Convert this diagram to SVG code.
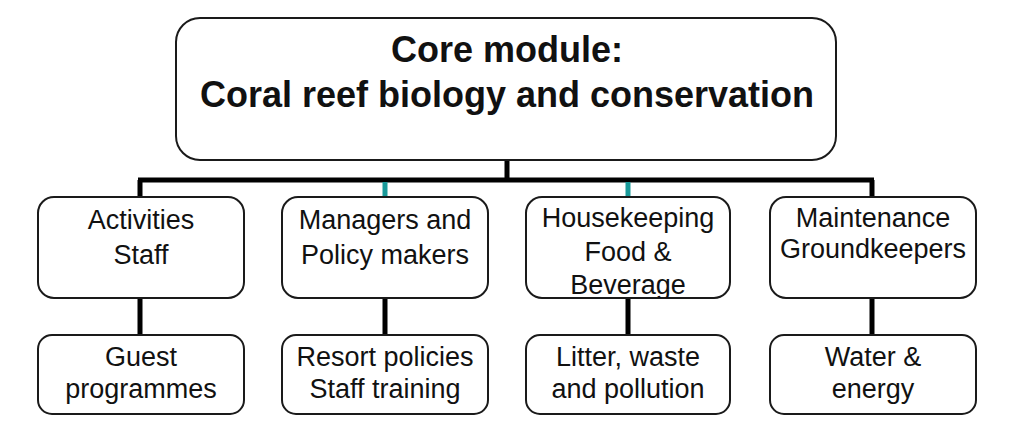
<svg xmlns="http://www.w3.org/2000/svg" width="1024" height="426" viewBox="0 0 1024 426">
<style>
.box{fill:#fff;stroke:#1a1a1a;stroke-width:2}
.t{font-family:"Liberation Sans",Arial,sans-serif;font-size:27px;fill:#111;text-anchor:middle}
.h{font-family:"Liberation Sans",Arial,sans-serif;font-size:36px;font-weight:bold;fill:#111;text-anchor:middle}
.k{stroke:#000;stroke-width:5;fill:none}
.c{stroke:#1a9a9a;stroke-width:5;fill:none}
</style>
<defs><clipPath id="cb3"><rect x="526" y="197" width="204" height="101" rx="16"/></clipPath></defs>
<g id="connectors">
<path class="k" d="M507 160V180M138 180H874M140 180V197M872 180V197"/>
<path class="c" d="M385 182V197M628 182V197"/>
<path class="k" d="M140 298V335M385 298V335M628 298V335M872 298V335"/>
</g>
<g id="core"><rect class="box" x="176" y="18" width="660" height="142" rx="24"/>
<text class="h" x="507" y="62">Core module:</text><text class="h" x="507" y="107">Coral reef biology and conservation</text></g>
<g id="activities"><rect class="box" x="38" y="197" width="206" height="101" rx="16"/>
<text class="t" x="141" y="229">Activities</text><text class="t" x="141" y="264">Staff</text></g>
<g id="managers"><rect class="box" x="282" y="197" width="206" height="101" rx="16"/>
<text class="t" x="385" y="229">Managers and</text><text class="t" x="385" y="264">Policy makers</text></g>
<g id="housekeeping"><rect class="box" x="526" y="197" width="204" height="101" rx="16"/>
<g clip-path="url(#cb3)"><text class="t" x="628" y="227">Housekeeping</text><text class="t" x="628" y="261">Food &amp;</text><text class="t" x="628" y="294">Beverage</text></g></g>
<g id="maintenance"><rect class="box" x="770" y="197" width="206" height="101" rx="16"/>
<text class="t" x="873" y="227">Maintenance</text><text class="t" x="873" y="258">Groundkeepers</text></g>
<g id="guest"><rect class="box" x="38" y="335" width="206" height="79" rx="14"/>
<text class="t" x="141" y="366">Guest</text><text class="t" x="141" y="398">programmes</text></g>
<g id="resort"><rect class="box" x="282" y="335" width="206" height="79" rx="14"/>
<text class="t" x="385" y="366">Resort policies</text><text class="t" x="385" y="398">Staff training</text></g>
<g id="litter"><rect class="box" x="526" y="335" width="204" height="79" rx="14"/>
<text class="t" x="628" y="366">Litter, waste</text><text class="t" x="628" y="398">and pollution</text></g>
<g id="water"><rect class="box" x="770" y="335" width="206" height="79" rx="14"/>
<text class="t" x="873" y="366">Water &amp;</text><text class="t" x="873" y="398">energy</text></g>
</svg>
